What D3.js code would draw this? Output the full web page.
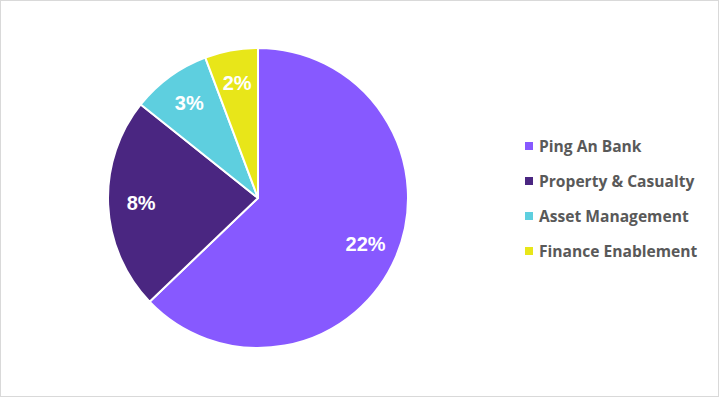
<!DOCTYPE html>
<html><head><meta charset="utf-8">
<script src="https://cdn.jsdelivr.net/npm/d3@7"></script>
<style>body{margin:0;background:#fff}svg{display:block}</style>
</head><body>
<svg id="c" width="720" height="398"></svg>
<script>
const categories = ["Ping An Bank", "Property & Casualty", "Asset Management", "Finance Enablement"];
const values = [22, 8, 3, 2];
const labels = ["22%", "8%", "3%", "2%"];
const colors = ["#8759FF", "#4A2681", "#5ECFDF", "#E8E619"];

const svg = d3.select("#c");
svg.append("rect").attr("x",0.5).attr("y",0.5).attr("width",718).attr("height",396)
  .attr("fill","#fff").attr("stroke","#d9d9d9").attr("stroke-width",1);

const cx = 258, cy = 198, r = 150;
const pie = d3.pie().sort(null).value(d => d)(values);
const arc = d3.arc().innerRadius(0).outerRadius(r);
const labelArc = d3.arc().innerRadius(r*0.78).outerRadius(r*0.78);
const g = svg.append("g").attr("transform",`translate(${cx},${cy})`);
g.selectAll("path").data(pie).join("path")
  .attr("d", arc).attr("fill",(d,i)=>colors[i])
  .attr("stroke","#fff").attr("stroke-width",2).attr("stroke-linejoin","round");
g.selectAll("text").data(pie).join("text")
  .attr("transform", d => `translate(${labelArc.centroid(d)})`)
  .attr("text-anchor","middle").attr("dominant-baseline","central")
  .attr("fill","#fff").attr("font-family","Liberation Sans, Arial, sans-serif")
  .attr("font-weight","bold").attr("font-size",20)
  .text((d,i)=>labels[i]);

const leg = svg.append("g");
const ly = d3.scalePoint().domain(categories).range([146, 251]);
categories.forEach((c,i)=>{
  leg.append("rect").attr("x",525).attr("y",ly(c)-4).attr("width",8).attr("height",8).attr("fill",colors[i]);
  leg.append("text").attr("x",539).attr("y",ly(c)).attr("dominant-baseline","central")
    .attr("fill","#595959").attr("font-family","Open Sans, sans-serif").attr("font-weight","bold")
    .attr("font-size",15.6).text(c);
});
</script>
</body></html>
